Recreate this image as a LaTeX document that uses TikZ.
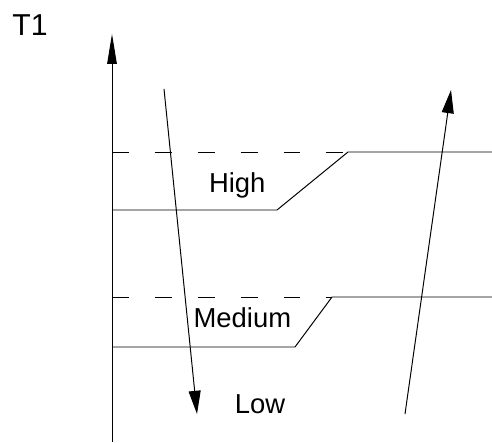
\documentclass[tikz,border=0pt]{standalone}
\usepackage{fontspec}
\setmainfont{Liberation Sans}
\usepackage{tikz}
\usetikzlibrary{arrows.meta,positioning,calc}

\begin{document}
\begin{tikzpicture}[line width=0.7pt,
    lbl/.style={font=\fontsize{19.5}{22}\selectfont},
    dashln/.style={dash pattern=on 12pt off 18.5pt},
    tip/.style={-{Triangle[length=0.58cm,width=0.3cm]}},
    axtip/.style={-{Triangle[length=0.75cm,width=0.24cm]}}]
  \useasboundingbox (0,0) rectangle (12.3,11.05);
  % axis
  \coordinate (ax0) at (2.8,0);
  \coordinate (ax1) at (2.8,10.2);
  \draw[axtip] (ax0)--(ax1);
  \node[lbl,font=\fontsize{21.5}{24}\selectfont] (t1) at (0.75,10.42) {T1};
  % levels
  \draw[dashln] (2.8,7.25)--(8.7,7.25);
  \draw (2.8,5.8)--(6.925,5.8)--(8.7,7.25)--(12.3,7.25);
  \draw[dashln] (2.8,3.625)--(8.3,3.625);
  \draw (2.8,2.375)--(7.375,2.375)--(8.3,3.625)--(12.3,3.625);
  \node[lbl] (high) at (5.93,6.42) {High};
  \node[lbl] (med) at (6.06,3.1) {Medium};
  \node[lbl] (low) at (6.5,0.95) {Low};
  % transitions
  \coordinate (dn0) at (4.1,8.825);
  \coordinate (dn1) at (4.925,0.7);
  \coordinate (up0) at (10.125,0.7);
  \coordinate (up1) at (11.275,8.8);
  \draw[tip] (dn0)--(dn1);
  \draw[tip] (up0)--(up1);
\end{tikzpicture}
\end{document}
